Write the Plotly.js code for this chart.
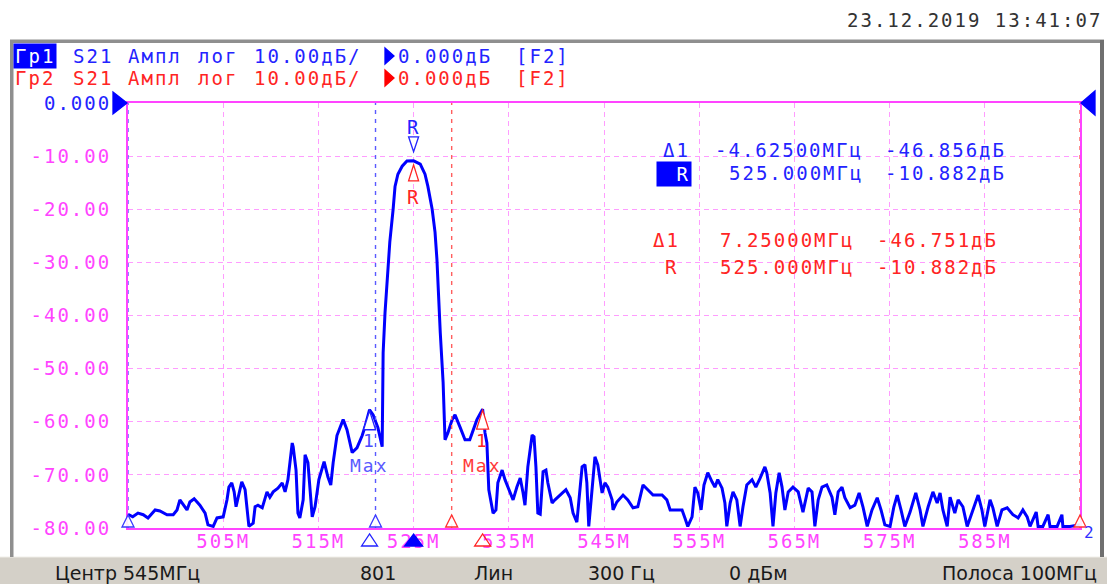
<!DOCTYPE html>
<html>
<head>
<meta charset="utf-8">
<script src="https://cdn.plot.ly/plotly-3.0.1.min.js"></script>
<style>
  html, body { margin: 0; padding: 0; background: #ffffff; }
  #chart { width: 1107px; height: 584px; }
  text[style*="Mono"] { letter-spacing: 2px; }
</style>
</head>
<body>
<div id="chart"></div>
<script>
// ---------------- data ----------------
const freqMHz = [
  495.0, 495.5, 496.05, 496.6, 497.1, 497.85, 498.35, 499.1, 499.75, 500.15,
  500.45, 500.8, 501.2, 501.5, 501.95, 502.55, 503.1, 503.4, 503.95, 504.35,
  505.0, 505.4, 505.6, 505.9, 506.15, 506.35, 506.55, 506.95, 507.3, 507.5,
  507.7, 508.15, 508.35, 508.65, 509.1, 509.6, 509.9, 510.25, 510.75, 511.2,
  511.5, 511.8, 512.25, 512.35, 512.65, 512.85, 513.05, 513.4, 513.6, 513.9,
  514.35, 514.65, 515.05, 515.6, 516.0, 516.3, 516.55, 516.95, 517.6, 518.0,
  518.55, 519.05, 519.6, 519.9, 520.375, 520.75, 521.25, 521.7, 521.8, 522.0,
  522.2, 522.5, 522.85, 523.05, 523.35, 523.8, 524.3, 525.0, 525.7, 526.2,
  526.5, 526.95, 527.25, 527.45, 527.8, 528.1, 528.3, 528.6, 529.05, 529.35,
  529.9, 530.4, 530.9, 531.65, 532.25, 532.5, 532.7, 532.9, 533.35, 533.65,
  533.85, 534.3, 534.6, 535.15, 535.45, 535.85, 536.2, 536.5, 536.7, 537.0,
  537.45, 537.65, 537.85, 538.05, 538.3, 538.6, 538.9, 539.1, 539.55, 539.85,
  540.4, 541.0, 541.45, 541.75, 542.15, 542.35, 542.7, 543.0, 543.2, 543.4,
  543.75, 544.05, 544.35, 544.8, 545.1, 545.4, 545.85, 545.95, 546.35, 547.0,
  547.5, 548.05, 548.55, 549.1, 549.6, 550.15, 551.1, 551.6, 551.95, 552.65,
  553.2, 553.5, 553.8, 554.25, 554.55, 554.85, 555.2, 555.5, 555.9, 556.35,
  556.65, 556.95, 557.4, 557.7, 557.9, 558.25, 558.55, 558.95, 559.3, 559.6,
  560.0, 560.55, 560.95, 561.4, 561.9, 562.1, 562.45, 562.75, 563.05, 563.4,
  563.7, 564.0, 564.35, 564.85, 565.4, 565.9, 566.45, 566.85, 567.15, 567.5,
  567.9, 568.4, 568.95, 569.25, 569.6, 570.0, 570.3, 570.85, 571.35, 571.8,
  572.2, 572.65, 573.15, 573.7, 574.1, 574.5, 575.05, 575.45, 575.8, 576.2,
  576.6, 577.15, 577.75, 578.2, 578.5, 579.05, 579.55, 580.0, 580.3, 580.6,
  581.05, 581.35, 581.85, 582.2, 582.7, 583.15, 583.65, 584.3, 584.7, 585.0,
  585.55, 585.85, 586.3, 586.8, 587.35, 587.95, 588.5, 589.0, 589.45, 589.75,
  590.4, 590.6, 591.1, 591.65, 591.85, 592.6, 593.1, 593.2, 593.95, 595.0
];
const s21dB = [
  -77.4, -77.9, -77.2, -77.5, -78.1, -76.6, -76.8, -77.5, -77.5, -76.6,
  -74.7, -75.7, -76.6, -75.1, -74.5, -75.7, -77.2, -79.4, -79.7, -78.1,
  -77.9, -74.7, -72.3, -71.5, -73.2, -76.0, -74.2, -71.3, -72.8, -76.6,
  -79.7, -79.1, -76.0, -75.7, -76.2, -73.2, -74.2, -73.2, -72.5, -71.5,
  -73.2, -70.9, -64.0, -64.7, -69.1, -77.2, -78.1, -74.7, -66.2, -67.7,
  -77.9, -76.0, -70.9, -67.5, -70.4, -71.9, -67.7, -62.6, -59.6, -61.5,
  -65.8, -64.9, -62.6, -60.9, -57.74, -58.7, -61.1, -64.7, -47.0, -39.4,
  -34.5, -26.2, -20.0, -15.7, -13.4, -11.9, -10.9, -10.882, -11.5, -13.4,
  -15.7, -20.0, -24.3, -29.4, -43.2, -52.6, -63.4, -62.1, -59.6, -58.7,
  -61.1, -63.4, -63.4, -59.6, -57.63, -62.1, -64.0, -72.8, -77.2, -76.6,
  -71.5, -69.1, -70.9, -73.4, -74.7, -72.3, -70.6, -73.4, -75.7, -68.5,
  -62.5, -62.8, -68.5, -77.2, -77.4, -69.4, -69.1, -71.5, -75.3, -74.7,
  -73.8, -72.8, -74.3, -77.2, -78.9, -74.7, -68.5, -68.1, -71.5, -79.7,
  -72.8, -66.6, -68.1, -73.4, -71.5, -72.3, -74.7, -76.6, -75.1, -73.8,
  -74.7, -76.2, -76.0, -71.9, -72.8, -73.8, -73.8, -74.7, -76.6, -76.6,
  -76.6, -78.1, -79.7, -77.9, -72.3, -73.4, -76.6, -71.9, -69.6, -71.3,
  -72.3, -70.9, -72.5, -75.3, -79.7, -75.3, -73.2, -74.7, -79.7, -76.0,
  -71.9, -70.9, -72.3, -70.6, -68.5, -69.6, -73.4, -79.7, -73.4, -69.6,
  -72.3, -76.6, -73.2, -72.3, -73.2, -77.0, -72.5, -73.2, -79.7, -74.7,
  -72.3, -71.9, -74.2, -77.5, -73.2, -72.3, -74.3, -76.2, -75.7, -73.4,
  -76.0, -79.7, -76.6, -74.3, -76.6, -79.4, -79.7, -76.0, -73.8, -76.6,
  -79.7, -77.0, -73.4, -76.6, -79.7, -76.0, -73.2, -75.3, -73.4, -76.6,
  -79.7, -74.2, -77.2, -74.7, -76.0, -79.7, -77.0, -73.8, -76.6, -79.7,
  -74.7, -76.2, -79.7, -76.6, -76.2, -77.5, -78.1, -76.6, -77.9, -79.7,
  -77.0, -79.7, -79.7, -77.5, -79.7, -79.7, -77.5, -79.7, -79.7, -79.4
];

const xTickVals = [505, 515, 525, 535, 545, 555, 565, 575, 585];
const xTickText = ['505M', '515M', '525M', '535M', '545M', '555M', '565M', '575M', '585M'];
const yTickVals = [0, -10, -20, -30, -40, -50, -60, -70, -80];
const yTickText = ['<span style="color:#2323ff">0.000</span>', '-10.00', '-20.00', '-30.00', '-40.00', '-50.00', '-60.00', '-70.00', '-80.00'];

// markers
const refFreq = 525.0, refLevel = -10.882;
const tr1Delta = [-4.625, -46.856];   // Tr1 Δ1 (MHz, dB)
const tr2Delta = [7.25, -46.751];     // Tr2 Δ1 (MHz, dB)
const tr1Range = [495, 521];          // Tr1 search range
const tr2Range = [529, 595];          // Tr2 search range

const headerTr1 = ['Гр1', 'S21', 'Ампл', 'лог', '10.00дБ/', '0.000дБ', '[F2]'];
const headerTr2 = ['Гр2', 'S21', 'Ампл', 'лог', '10.00дБ/', '0.000дБ', '[F2]'];
const tableTr1 = [['Δ1', '-4.62500МГц', '-46.856дБ'], ['R', '525.000МГц', '-10.882дБ']];
const tableTr2 = [['Δ1', '7.25000МГц', '-46.751дБ'], ['R', '525.000МГц', '-10.882дБ']];
const statusItems = ['Центр 545МГц', '801', 'Лин', '300 Гц', '0 дБм', 'Полоса 100МГц'];
const dateText = '23.12.2019 13:41:07';

// ---------------- layout helpers ----------------
const W = 1107, H = 584, PL = 128, PR = 1080, PT = 103, PB = 528;
const X0 = 495, X1 = 595, Y0 = -80, Y1 = 0;
const px2x = p => (p - PL) / (PR - PL);
const py2y = p => (PB - p) / (PB - PT);
const f2x = f => (f - X0) / (X1 - X0);
const d2y = d => (d - Y0) / (Y1 - Y0);

const MONO = 'DejaVu Sans Mono';
const SANS = 'DejaVu Sans';
const BLUE = '#2323ff', RED = '#ff2424', MAG = '#ff44ff', GRID = '#ff9cff';

const annotations = [];
const shapes = [];
function txt(px, py, text, color, xanchor, opts) {
  opts = opts || {};
  annotations.push(Object.assign({
    xref: 'paper', yref: 'paper', x: px2x(px), y: py2y(py),
    xanchor: xanchor || 'left', yanchor: 'middle', showarrow: false,
    text: text, borderpad: 0,
    font: { family: opts.family || MONO, size: opts.size || 19, color: color }
  }, opts.extra || {}));
}
function tri(xa, ya, path, line, fill) {
  shapes.push({
    type: 'path', xref: 'paper', yref: 'paper',
    xsizemode: 'pixel', ysizemode: 'pixel', xanchor: xa, yanchor: ya,
    path: path, line: { color: line, width: 1.3 }, fillcolor: fill, layer: 'above'
  });
}
function mtxt(f, d, text, color, yshift, size) {
  annotations.push({
    xref: 'paper', yref: 'paper', x: f2x(f), y: d2y(d), xanchor: 'center', yanchor: 'middle',
    yshift: yshift, showarrow: false, text: text, borderpad: 0,
    font: { family: MONO, size: size || 19, color: color }
  });
}

// frame / status bar
shapes.push({ type: 'rect', xref: 'paper', yref: 'paper', x0: px2x(-5), x1: px2x(W + 5), y0: py2y(557), y1: py2y(H + 5),
  fillcolor: '#d4d0c8', line: { width: 0 }, layer: 'below' });
shapes.push({ type: 'line', xref: 'paper', yref: 'paper', x0: px2x(-5), x1: px2x(W + 5), y0: py2y(557), y1: py2y(557),
  line: { color: '#f0eee8', width: 1 } });
shapes.push({ type: 'rect', xref: 'paper', yref: 'paper', x0: px2x(10), x1: px2x(1104), y0: py2y(39.5), y1: py2y(43),
  fillcolor: '#8f8f8f', line: { width: 0 } });
shapes.push({ type: 'rect', xref: 'paper', yref: 'paper', x0: px2x(10), x1: px2x(13.5), y0: py2y(40), y1: py2y(557),
  fillcolor: '#8f8f8f', line: { width: 0 } });
shapes.push({ type: 'rect', xref: 'paper', yref: 'paper', x0: px2x(1100), x1: px2x(1104), y0: py2y(40), y1: py2y(557),
  fillcolor: '#6f6f6f', line: { width: 0 } });

// search range dashed lines
[[tr1Range[0], '#5a5aff'], [tr1Range[1], '#5a5aff'], [tr2Range[0], '#ff5e5e'], [tr2Range[1], '#ff5e5e']].forEach(([f, c]) => {
  shapes.push({ type: 'line', xref: 'x', yref: 'paper', x0: f, x1: f, y0: 0, y1: 1,
    line: { color: c, width: 1.4, dash: '4px,5px' }, layer: 'above' });
});
// range triangles above the axis bottom
tri(f2x(tr1Range[0]), 0, 'M-6,1L6,1L0,13Z', '#3a3aff', 'rgba(255,255,255,0.9)');
tri(f2x(tr1Range[1]), 0, 'M-6,1L6,1L0,13Z', '#3a3aff', 'rgba(255,255,255,0.9)');
tri(f2x(tr2Range[0]), 0, 'M-6,1L6,1L0,13Z', '#ff3030', 'rgba(255,255,255,0.9)');
tri(f2x(tr2Range[1]), 0, 'M-6,1L6,1L0,13Z', '#ff3030', 'rgba(255,255,255,0.9)');

// marker positions
const m1Tr1 = [refFreq + tr1Delta[0], refLevel + tr1Delta[1]];
const m1Tr2 = [refFreq + tr2Delta[0], refLevel + tr2Delta[1]];

// reference markers on trace
tri(f2x(refFreq), d2y(refLevel), 'M-5,24L5,24L0,9Z', '#2323ff', '#ffffff');
mtxt(refFreq, refLevel, 'R', BLUE, 34);
tri(f2x(refFreq), d2y(refLevel), 'M-5,-20L5,-20L0,-4Z', '#ff2424', '#ffffff');
mtxt(refFreq, refLevel, 'R', RED, -36);
// delta markers
tri(f2x(m1Tr1[0]), d2y(m1Tr1[1]), 'M-6,-20L6,-20L0,-1Z', '#2323ff', '#ffffff');
mtxt(m1Tr1[0], m1Tr1[1], '1', '#4a4aff', -31, 18);
mtxt(m1Tr1[0], m1Tr1[1], 'Max', '#5a5aff', -56, 18);
tri(f2x(m1Tr2[0]), d2y(m1Tr2[1]), 'M-6,-20L6,-20L0,-1Z', '#ff2424', '#ffffff');
mtxt(m1Tr2[0], m1Tr2[1], '1', RED, -31, 18);
mtxt(m1Tr2[0], m1Tr2[1], 'Max', '#ff3a3a', -56, 18);
// stimulus triangles below the axis
tri(f2x(m1Tr1[0]), 0, 'M-8,-18L8,-18L0,-6Z', '#2323ff', '#ffffff');
tri(f2x(refFreq), 0, 'M-9,-18L9,-18L0,-6Z', '#0000ff', '#0000ff');
tri(f2x(m1Tr2[0]), 0, 'M-8,-18L8,-18L0,-6Z', '#ff2424', 'rgba(255,255,255,0)');
annotations.push({ xref: 'paper', yref: 'paper', x: px2x(1090), y: py2y(532), xanchor: 'center', yanchor: 'middle',
  showarrow: false, text: '2', font: { family: MONO, size: 16, color: '#3030ff' } });

// reference level arrows
tri(0, 1, 'M-15,11L-1,0L-15,-11Z', '#0000ff', '#0000ff');
tri(1, 1, 'M1,0L15,12L15,-12Z', '#0000ff', '#0000ff');

// header rows
const headerX = [13, 72, 127, 197, 253, 397, 515];
headerTr1.forEach((t, i) => {
  if (i === 0) txt(headerX[i], 56, t, '#ffffff', 'left', { extra: { bgcolor: '#0000ff', borderpad: 1 } });
  else txt(headerX[i], 56, t, BLUE, 'left');
});
headerTr2.forEach((t, i) => txt(i === 0 ? headerX[i] + 1 : headerX[i], 78, t, RED, 'left'));
tri(px2x(385), py2y(56), 'M0,8L9,0L0,-8Z', '#0000ff', '#0000ff');
tri(px2x(385), py2y(78), 'M0,8L9,0L0,-8Z', '#ff0000', '#ff0000');

// date
txt(1103, 20, dateText, '#333333', 'right');

// marker table
txt(662, 150, tableTr1[0][0], BLUE, 'left');
txt(864, 150, tableTr1[0][1], BLUE, 'right');
txt(1007, 150, tableTr1[0][2], BLUE, 'right');
txt(692, 173.5, tableTr1[1][0], '#ffffff', 'right', { extra: { bgcolor: '#0000ff', width: 32, align: 'right', borderpad: 1 } });
txt(864, 173, tableTr1[1][1], BLUE, 'right');
txt(1007, 173, tableTr1[1][2], BLUE, 'right');
txt(652, 240, tableTr2[0][0], RED, 'left');
txt(855, 240, tableTr2[0][1], RED, 'right');
txt(999, 240, tableTr2[0][2], RED, 'right');
txt(671, 267, tableTr2[1][0], RED, 'center');
txt(855, 267, tableTr2[1][1], RED, 'right');
txt(999, 267, tableTr2[1][2], RED, 'right');

// status bar
const statusX = [[54, 'left'], [359, 'left'], [473, 'left'], [587, 'left'], [728, 'left'], [1098, 'right']];
statusItems.forEach((t, i) => txt(statusX[i][0], 573, t, '#1a1a1a', statusX[i][1], { family: SANS, size: 19 }));

// ---------------- plot ----------------
const trace = {
  x: freqMHz, y: s21dB, type: 'scatter', mode: 'lines',
  line: { color: '#0000ff', width: 3 }, hoverinfo: 'skip'
};

const layout = {
  width: W, height: H,
  margin: { l: PL, r: W - PR, t: PT, b: H - PB, pad: 0 },
  paper_bgcolor: '#ffffff', plot_bgcolor: '#ffffff',
  showlegend: false,
  xaxis: {
    range: [X0, X1], tickvals: xTickVals, ticktext: xTickText,
    showgrid: true, gridcolor: GRID, griddash: '5px,4px', gridwidth: 1,
    zeroline: false, showline: true, mirror: true, linecolor: MAG, linewidth: 2,
    ticks: '', ticklabelstandoff: -5,
    tickfont: { family: MONO, size: 19, color: MAG }, fixedrange: true
  },
  yaxis: {
    range: [Y0, Y1], tickvals: yTickVals, ticktext: yTickText,
    showgrid: true, gridcolor: GRID, griddash: '5px,4px', gridwidth: 1,
    zeroline: false, showline: true, mirror: true, linecolor: MAG, linewidth: 2,
    ticks: '', ticklabelstandoff: 11,
    tickfont: { family: MONO, size: 19, color: MAG }, fixedrange: true
  },
  shapes: shapes,
  annotations: annotations
};

Plotly.newPlot('chart', [trace], layout, { staticPlot: true, displayModeBar: false });
</script>
</body>
</html>
